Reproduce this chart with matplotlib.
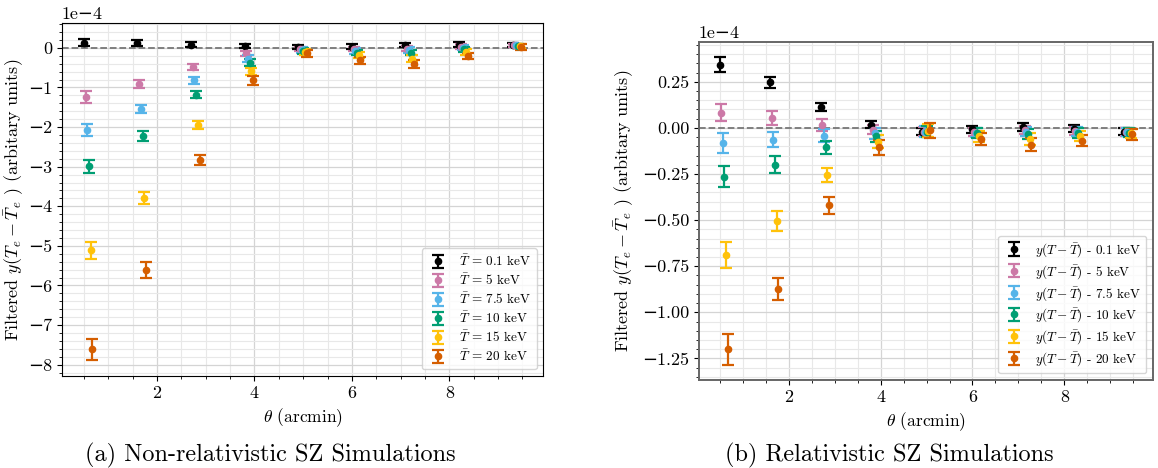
import numpy as np
import matplotlib
matplotlib.use('Agg')
from matplotlib import pyplot as plt
from matplotlib.ticker import AutoMinorLocator, MultipleLocator

plt.rcParams['font.family'] = ['cmr10', 'DejaVu Serif']
plt.rcParams['mathtext.fontset'] = 'cm'
plt.rcParams['axes.formatter.use_mathtext'] = False

# angular bins (arcmin) and per-series horizontal shift
theta = np.array([0.5, 1.6, 2.7, 3.8, 4.9, 6.0, 7.1, 8.2, 9.3])
shift = 0.035

temps = ['0.1', '5', '7.5', '10', '15', '20']
colors = ['black', '#CC79A7', '#56B4E9', '#009E73', '#FFC20A', '#D55E00']

# non-relativistic, units of 1e-4
nr_y = [
    [0.13, 0.12, 0.08, 0.05, 0.02, 0.03, 0.07, 0.08, 0.07],
    [-1.24, -0.92, -0.48, -0.14, -0.03, -0.03, -0.02, 0.03, 0.06],
    [-2.07, -1.54, -0.82, -0.27, -0.06, -0.08, -0.06, 0.00, 0.06],
    [-2.99, -2.22, -1.18, -0.37, -0.08, -0.12, -0.12, -0.04, 0.05],
    [-5.11, -3.80, -1.95, -0.59, -0.10, -0.18, -0.27, -0.11, 0.05],
    [-7.61, -5.61, -2.83, -0.82, -0.14, -0.31, -0.41, -0.21, 0.02],
]
nr_err = [
    [0.09, 0.08, 0.07, 0.06, 0.06, 0.06, 0.06, 0.06, 0.05],
    [0.15, 0.10, 0.08, 0.07, 0.06, 0.06, 0.06, 0.06, 0.05],
    [0.16, 0.11, 0.09, 0.08, 0.07, 0.07, 0.07, 0.06, 0.05],
    [0.17, 0.12, 0.09, 0.08, 0.07, 0.07, 0.07, 0.07, 0.06],
    [0.22, 0.15, 0.10, 0.09, 0.08, 0.08, 0.08, 0.07, 0.06],
    [0.27, 0.20, 0.13, 0.11, 0.09, 0.09, 0.10, 0.08, 0.07],
]

# relativistic, units of 1e-4
rel_y = [
    [0.343, 0.248, 0.113, 0.018, -0.020, -0.008, 0.004, -0.004, -0.020],
    [0.081, 0.054, 0.016, -0.010, -0.020, -0.020, -0.010, -0.015, -0.022],
    [-0.081, -0.063, -0.043, -0.030, -0.020, -0.025, -0.020, -0.020, -0.024],
    [-0.264, -0.200, -0.106, -0.045, -0.020, -0.030, -0.033, -0.028, -0.026],
    [-0.689, -0.505, -0.254, -0.075, -0.015, -0.045, -0.060, -0.045, -0.030],
    [-1.200, -0.874, -0.420, -0.105, -0.012, -0.058, -0.090, -0.070, -0.035],
]
rel_err = [
    [0.039, 0.030, 0.022, 0.020, 0.020, 0.020, 0.020, 0.020, 0.018],
    [0.046, 0.038, 0.032, 0.025, 0.025, 0.022, 0.022, 0.022, 0.020],
    [0.053, 0.040, 0.035, 0.030, 0.028, 0.025, 0.025, 0.024, 0.022],
    [0.058, 0.045, 0.033, 0.030, 0.030, 0.027, 0.027, 0.026, 0.024],
    [0.070, 0.052, 0.038, 0.035, 0.035, 0.030, 0.030, 0.028, 0.026],
    [0.084, 0.061, 0.045, 0.040, 0.040, 0.033, 0.033, 0.030, 0.028],
]

fig = plt.figure(figsize=(11.58, 4.68), dpi=100)
ax1 = fig.add_axes([0.0535, 0.1966, 0.4155, 0.754])
ax2 = fig.add_axes([0.6036, 0.188, 0.392, 0.722])


def draw(ax, ys, errs, labels, labx):
    for i in range(len(ys)):
        ax.errorbar(theta + i * shift, np.array(ys[i]) * 1e-4,
                    yerr=np.array(errs[i]) * 1e-4, fmt='o', ms=4.5,
                    color=colors[i], elinewidth=1.6, capsize=4, capthick=1.6,
                    label=labels[i])
    ax.axhline(0, color='#777777', ls='--', lw=1.3, zorder=1)
    ax.xaxis.set_major_locator(MultipleLocator(2))
    ax.xaxis.set_minor_locator(MultipleLocator(0.5))
    ax.yaxis.set_minor_locator(AutoMinorLocator())
    ax.ticklabel_format(axis='y', style='sci', scilimits=(0, 0))
    ax.grid(which='major', color='#d4d4d4', lw=0.9)
    ax.grid(which='minor', color='#e8e8e8', lw=0.8)
    ax.set_axisbelow(True)
    ax.tick_params(labelsize=13)
    ax.yaxis.get_offset_text().set_fontsize(13)
    ax.set_xlabel(r'$\theta$ (arcmin)', fontsize=12.5)
    ax.set_ylabel(r'Filtered $y(T_e-\bar{T}_e$ ) (arbitary units)', fontsize=13)
    ax.yaxis.set_label_coords(labx, 0.5)
    ax.legend(loc='lower right', fontsize=9.5, handlelength=1.6,
              labelspacing=0.3)


draw(ax1, nr_y, nr_err, [r'$\bar{T}$ = ' + t + ' keV' for t in temps], -0.075)
draw(ax2, rel_y, rel_err, [r'$y(T-\bar{T})$ - ' + t + ' keV' for t in temps], -0.139)
for s in ax2.spines.values():
    s.set_color('0.4')
    s.set_linewidth(1.4)

fig.text(0.233, 0.014, '(a) Non-relativistic SZ Simulations', ha='center', fontsize=17.5)
fig.text(0.768, 0.014, '(b) Relativistic SZ Simulations', ha='center', fontsize=17.5)

fig.savefig('out.png', dpi=100)
